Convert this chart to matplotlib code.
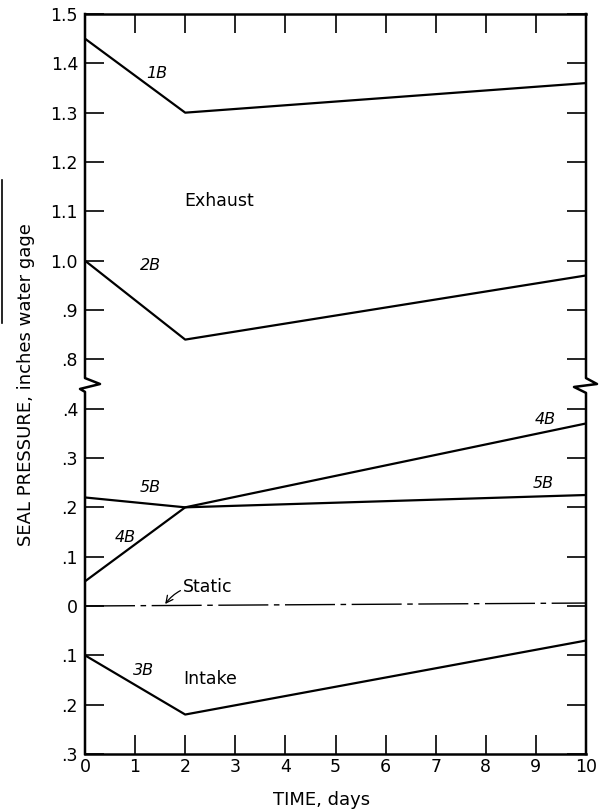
import matplotlib
matplotlib.use("Agg")
import matplotlib.pyplot as plt
import matplotlib.transforms as mtransforms
from matplotlib.lines import Line2D

# ---------------------------------------------------------------------------
# Data (seal pressure, inches water gage)
# ---------------------------------------------------------------------------
days = [0, 2, 10]
exhaust_1b = [1.45, 1.30, 1.36]
exhaust_2b = [1.00, 0.84, 0.97]
seal_4b = [0.05, 0.20, 0.37]
seal_5b = [0.22, 0.20, 0.225]
intake_3b = [-0.10, -0.22, -0.07]
static_days = [0, 10]
static_vals = [0.0, 0.006]

x_ticks = list(range(0, 11))
upper_ticks = [0.8, 0.9, 1.0, 1.1, 1.2, 1.3, 1.4, 1.5]
upper_labels = [".8", ".9", "1.0", "1.1", "1.2", "1.3", "1.4", "1.5"]
lower_ticks = [-0.3, -0.2, -0.1, 0.0, 0.1, 0.2, 0.3, 0.4]
lower_labels = [".3", ".2", ".1", "0", ".1", ".2", ".3", ".4"]

# the exhaust panel sits above the axis break, drawn 0.3 lower
SHIFT = 0.3
BREAK = 0.45


def up(vals):
    return [v - SHIFT for v in vals]


plt.rcParams['font.family'] = ['DejaVu Sans']

fig = plt.figure(figsize=(6.02, 8.10), dpi=100)
ax = fig.add_axes([85 / 602, 1 - 754 / 810, 501 / 602, 740 / 810])

ax.set_xlim(0, 10)
ax.set_ylim(-0.3, 1.2)

lw = 1.6
ax.plot(days, up(exhaust_1b), color='black', lw=lw)
ax.plot(days, up(exhaust_2b), color='black', lw=lw)
ax.plot(days, seal_4b, color='black', lw=lw)
ax.plot(days, seal_5b, color='black', lw=lw)
ax.plot(days, intake_3b, color='black', lw=lw)
st, = ax.plot(static_days, static_vals, color='black', lw=1.0)
st.set_dashes((36, 4, 4, 4))

# curve labels
lab = dict(fontsize=11.5, style='italic', ha='center', va='center')
ax.text(1.44, 1.38 - SHIFT, '1B', **lab)
ax.text(1.3, 0.99 - SHIFT, '2B', **lab)
ax.text(1.3, 0.241, '5B', **lab)
ax.text(0.8, 0.138, '4B', **lab)
ax.text(9.18, 0.378, '4B', **lab)
ax.text(9.14, 0.248, '5B', **lab)
ax.text(1.16, -0.130, '3B', **lab)
ax.text(1.98, 1.12 - SHIFT, 'Exhaust', fontsize=12.5, ha='left', va='center')
ax.text(1.96, -0.148, 'Intake', fontsize=12.5, ha='left', va='center')
ax.annotate('Static', xy=(1.6, 0.004), xytext=(1.96, 0.039),
            fontsize=12.5, ha='left', va='center',
            arrowprops=dict(arrowstyle='->', lw=0.9, color='black',
                            shrinkA=0, shrinkB=0,
                            connectionstyle='arc3,rad=0.3'))

# ticks on all four sides, pointing in
yt = up(upper_ticks) + lower_ticks
ax.set_yticks(yt)
ax.set_yticklabels(upper_labels + lower_labels)
ax.set_xticks(x_ticks)
ax.tick_params(direction='in', length=14, width=1.2, top=True, right=True,
               labelsize=12.5)
ax.tick_params(axis='y', pad=5)
ax.tick_params(axis='x', pad=3)

fig.text(322 / 602, 1 - 800 / 810, 'TIME, days', fontsize=13,
         ha='center', va='center')
fig.text(26 / 602, 1 - 385 / 810, 'SEAL PRESSURE, inches water gage',
         fontsize=13, rotation=90, ha='center', va='center')

# side spines with the zigzag break
for s in ('left', 'right'):
    ax.spines[s].set_visible(False)
for s in ('top', 'bottom'):
    ax.spines[s].set_linewidth(1.8)

blend = mtransforms.blended_transform_factory(ax.transAxes, ax.transData)
left_x = [0, 0, -0.01, 0.03, 0, 0]
left_y = [-0.3, BREAK - 0.016, BREAK - 0.01, BREAK, BREAK + 0.012, 1.2]
ax.add_line(Line2D(left_x, left_y, transform=blend, color='black',
                   lw=1.8, clip_on=False))
right_x = [1, 1, 0.976, 1.022, 1, 1]
right_y = [-0.3, BREAK - 0.018, BREAK - 0.006, BREAK, BREAK + 0.012, 1.2]
ax.add_line(Line2D(right_x, right_y, transform=blend, color='black',
                   lw=1.8, clip_on=False))

# scan artifact at the left edge
fig.add_artist(Line2D([2 / 602, 2 / 602], [1 - 180 / 810, 1 - 323 / 810],
                      transform=fig.transFigure, color='black', lw=1.2))

fig.savefig('out.png', dpi=100)
